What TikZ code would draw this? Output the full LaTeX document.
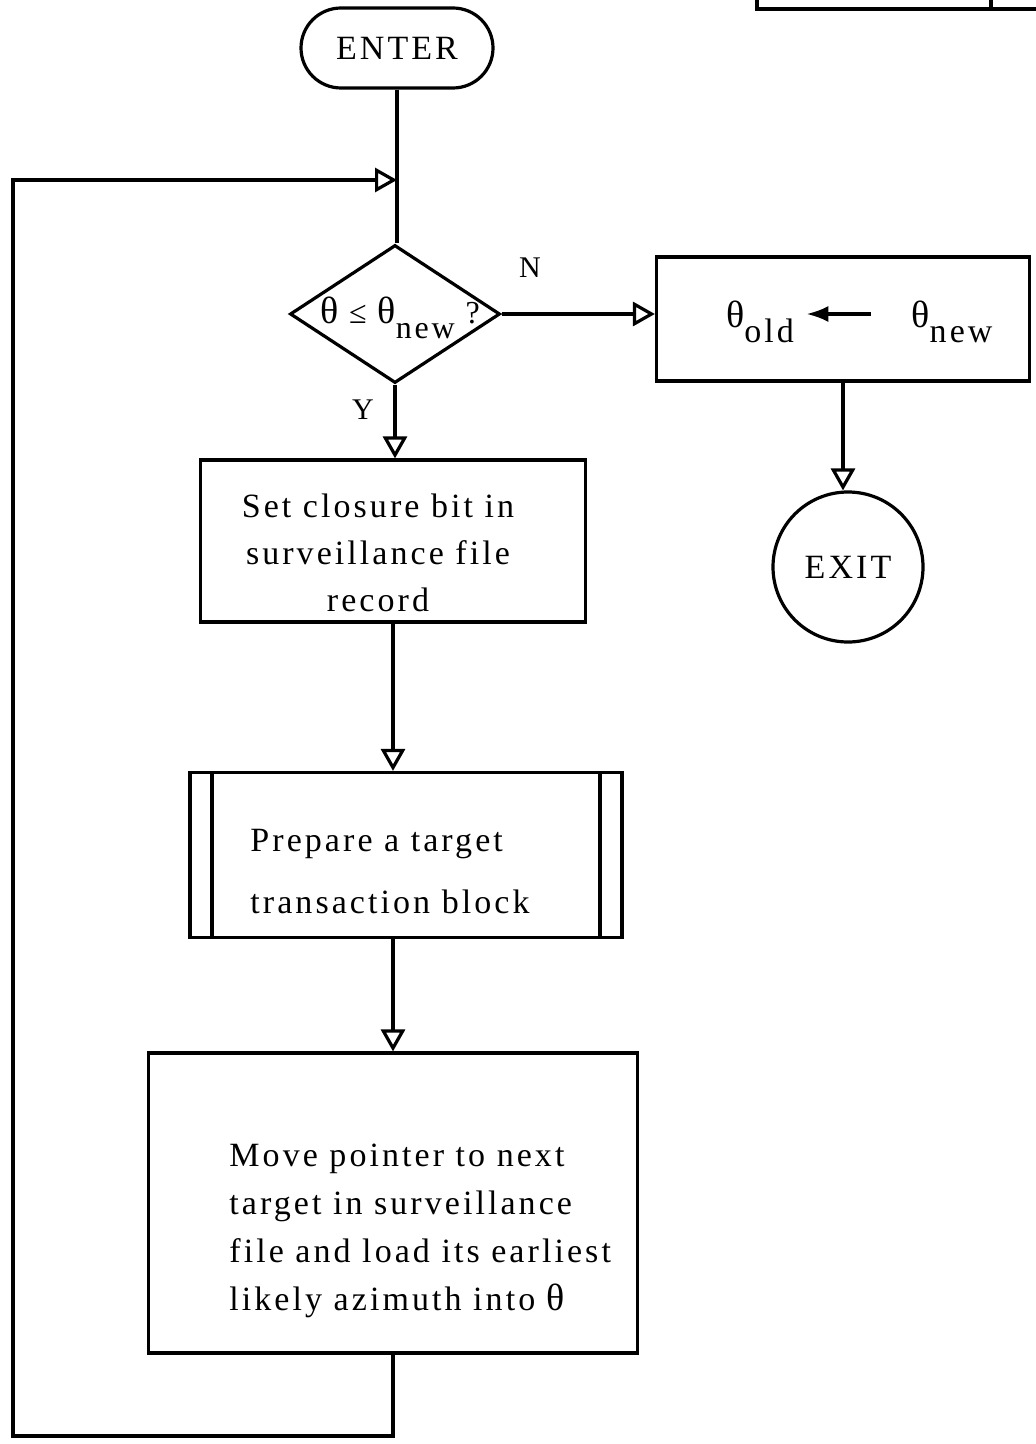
\documentclass[tikz,border=0pt]{standalone}
\usepackage{fontspec}
\setmainfont{Liberation Serif}[LetterSpace=9]
\usetikzlibrary{arrows.meta,positioning,shapes.geometric}
\newcommand\lowidx[1]{\raisebox{-0.45em}{#1}}
\newcommand\thet{{\fontsize{19}{19}\selectfont θ}}

\begin{document}
\begin{tikzpicture}[
  x=0.5pt, y=-0.5pt,
  font=\fontsize{17}{24}\selectfont,
  every node/.style = {inner sep=0pt},
  term/.style   = {draw, line width=1.6pt, rounded corners=20pt,
                   minimum width=96pt, minimum height=40pt},
  decide/.style = {draw, diamond, line width=1.6pt,
                   minimum width=105pt, minimum height=69pt},
  proc/.style   = {draw, rectangle, line width=1.6pt},
  predef/.style = {proc, path picture={
                     \draw[line width=1.6pt] ([xshift=11pt]path picture bounding box.north west)
                                          -- ([xshift=11pt]path picture bounding box.south west);
                     \draw[line width=1.6pt] ([xshift=-11pt]path picture bounding box.north east)
                                          -- ([xshift=-11pt]path picture bounding box.south east);}},
  stop/.style   = {draw, circle, line width=1.6pt, minimum size=75pt},
  txt/.style    = {align=left},
  ln/.style     = {line width=1.6pt},
  conn/.style   = {ln, -{Triangle[open, length=11pt, width=12pt, line width=1.6pt]}},
  lbl/.style    = {font=\fontsize{15}{15}\selectfont},
]
\useasboundingbox (0,0) rectangle (1036,1444);

% --- main column ---------------------------------------------------------------
\node[term] (enter) at (397,48) {ENTER};
\node[decide] (test) at (395,314) {};
\node[font=\fontsize{16}{16}\selectfont] (testtxt) at (400,318) {\thet{} ≤ \thet\lowidx{new} ?};
\node[proc, minimum width=192.5pt, minimum height=81pt] (closure) at (393,541) {};
\node[align=center, font=\fontsize{17}{23.5}\selectfont] (closuretxt) at (378,553)
  {Set closure bit in\\surveillance file\\record};
\node[predef, minimum width=216pt, minimum height=82.5pt] (prep) at (406,855) {};
\node[txt, anchor=west, font=\fontsize{17}{31}\selectfont] (preptxt) at (250,872)
  {Prepare a target\\transaction block};
\node[proc, minimum width=244.5pt, minimum height=150pt] (move) at (393,1203) {};
\node[txt, anchor=west] (movetxt) at (229,1231)
  {Move pointer to next\\target in surveillance\\file and load its earliest\\likely azimuth into \thet};

% --- the N branch ---------------------------------------------------------------
\node[proc, minimum width=186.5pt, minimum height=62pt] (assign) at (843,319) {};
\node (old) at (760,322) {\thet\lowidx{old}};
\node (new) at (952,322) {\thet\lowidx{new}};
\node[stop] (exit) at (848,567) {EXIT};

\node[lbl] (nlbl) at (530,268) {N};
\node[lbl] (ylbl) at (363,410) {Y};

% --- connectors ------------------------------------------------------------------
\coordinate (merge) at (enter.south |- 0,180);
\coordinate (leftc) at (13,1436);
\draw[ln] (enter.south) -- (enter.south |- test.north);
\draw[conn] (test.east) -- (test.east -| assign.west);
\draw[conn] (test.south) -- (test.south |- closure.north);
\draw[conn] (closure.south) -- (closure.south |- prep.north);
\draw[conn] (closure.south |- prep.south) -- (closure.south |- move.north);
\draw[conn] (assign.south) -- (assign.south |- exit.north);
\draw[conn] (move.south) -- (move.south |- leftc) -- (leftc) |- (merge);
\draw[-{Latex[length=11pt, width=8pt]}, line width=1.8pt, shorten <=20pt, shorten >=6pt]
  ([yshift=4pt]new.west) -- ([yshift=4pt]old.east);

% --- corner of the page table ------------------------------------------------------
\draw[ln] (757,0) -- (757,9) -- (1036,9);
\draw[ln] (991,0) -- (991,9);
\end{tikzpicture}
\end{document}
